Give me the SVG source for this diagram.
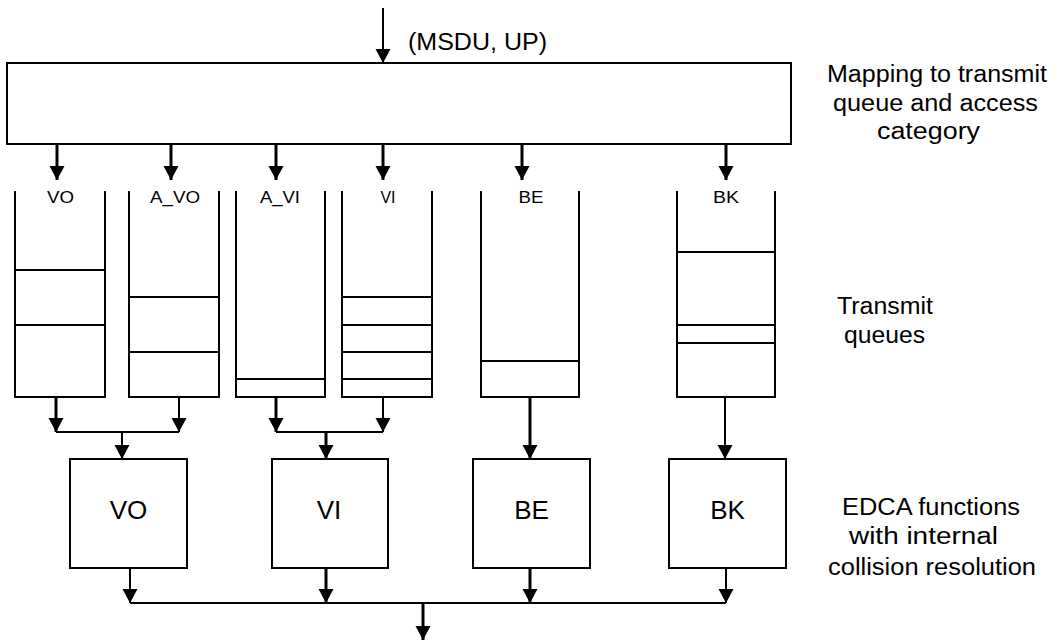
<svg xmlns="http://www.w3.org/2000/svg" width="1053" height="641" viewBox="0 0 1053 641">
<style>
.box{fill:#fff;stroke:#000;stroke-width:2}
.q{fill:none;stroke:#000;stroke-width:2}
.ln{fill:none;stroke:#000;stroke-width:2}
.ar{fill:none;stroke:#000;stroke-width:2;marker-end:url(#ah)}
.ak{fill:none;stroke:#000;stroke-width:3;marker-end:url(#ah)}
.t{font-family:"Liberation Sans",Arial,sans-serif;fill:#000}
.lab{font-size:23px;text-anchor:middle}
.ql{font-size:16px;text-anchor:middle}
.el{font-size:26px;text-anchor:middle}
</style>
<defs>
<marker id="ah" markerUnits="userSpaceOnUse" markerWidth="16" markerHeight="16" refX="14" refY="0" orient="auto" overflow="visible" viewBox="0 -8 16 16">
<path d="M0,-7.5 L14,0 L0,7.5 Z" fill="#000"/>
</marker>
</defs>
<g id="mapping">
<rect class="box" x="7" y="63" width="784" height="81"/>
</g>
<g id="queue-VO">
<path class="q" d="M15,191 V397 H105 V191 M15,270 H105 M15,325 H105"/>
<text class="t ql" x="60.5" y="203" textLength="27" lengthAdjust="spacingAndGlyphs">VO</text>
</g>
<g id="queue-A_VO">
<path class="q" d="M129,191 V397 H219 V191 M129,297 H219 M129,352 H219"/>
<text class="t ql" x="175" y="203" textLength="50" lengthAdjust="spacingAndGlyphs">A_VO</text>
</g>
<g id="queue-A_VI">
<path class="q" d="M236,191 V397 H325 V191 M236,379 H325"/>
<text class="t ql" x="280" y="203" textLength="40" lengthAdjust="spacingAndGlyphs">A_VI</text>
</g>
<g id="queue-VI">
<path class="q" d="M342,191 V397 H432 V191 M342,297 H432 M342,325 H432 M342,352 H432 M342,379 H432"/>
<text class="t ql" x="388" y="203" textLength="15" lengthAdjust="spacingAndGlyphs">VI</text>
</g>
<g id="queue-BE">
<path class="q" d="M481,191 V397 H579 V191 M481,361 H579"/>
<text class="t ql" x="531" y="203" textLength="25" lengthAdjust="spacingAndGlyphs">BE</text>
</g>
<g id="queue-BK">
<path class="q" d="M677,191 V397 H775 V191 M677,252 H775 M677,325 H775 M677,343 H775"/>
<text class="t ql" x="726" y="203" textLength="26" lengthAdjust="spacingAndGlyphs">BK</text>
</g>
<g id="edca-VO">
<rect class="box" x="70" y="459" width="117" height="109"/>
<text class="t el" x="128.5" y="519">VO</text>
</g>
<g id="edca-VI">
<rect class="box" x="272" y="459" width="116" height="109"/>
<text class="t el" x="329" y="519">VI</text>
</g>
<g id="edca-BE">
<rect class="box" x="473" y="459" width="117" height="109"/>
<text class="t el" x="531.5" y="519">BE</text>
</g>
<g id="edca-BK">
<rect class="box" x="669" y="459" width="117" height="109"/>
<text class="t el" x="727.5" y="519">BK</text>
</g>
<g id="connectors">
<path class="ar" d="M383,8 V63"/>
<path class="ak" d="M57,144 V180"/>
<path class="ak" d="M171,144 V180"/>
<path class="ak" d="M276,144 V180"/>
<path class="ak" d="M383,144 V180"/>
<path class="ak" d="M522,144 V180"/>
<path class="ak" d="M726,144 V180"/>
<path class="ak" d="M56,397 V432"/>
<path class="ar" d="M179,397 V432"/>
<path class="ln" d="M56,432 H179"/>
<path class="ar" d="M122,432 V459"/>
<path class="ak" d="M276,397 V432"/>
<path class="ar" d="M383,397 V432"/>
<path class="ln" d="M276,432 H383"/>
<path class="ak" d="M326,432 V459"/>
<path class="ak" d="M530,397 V459"/>
<path class="ar" d="M725,397 V459"/>
<path class="ar" d="M130,568 V603"/>
<path class="ak" d="M326,568 V603"/>
<path class="ak" d="M530,568 V603"/>
<path class="ar" d="M726,568 V603"/>
<path class="ln" d="M130,603 H726"/>
<path class="ak" d="M423,603 V640"/>
</g>
<g id="labels">
<text class="t" x="408" y="50" font-size="23" textLength="139" lengthAdjust="spacingAndGlyphs">(MSDU, UP)</text>
<text class="t lab" x="937" y="82" textLength="220" lengthAdjust="spacingAndGlyphs">Mapping to transmit</text>
<text class="t lab" x="935.5" y="110.5" textLength="205" lengthAdjust="spacingAndGlyphs">queue and access</text>
<text class="t lab" x="928.5" y="139" textLength="103" lengthAdjust="spacingAndGlyphs">category</text>
<text class="t lab" x="885" y="314" textLength="96" lengthAdjust="spacingAndGlyphs">Transmit</text>
<text class="t lab" x="884.5" y="343" textLength="81" lengthAdjust="spacingAndGlyphs">queues</text>
<text class="t lab" x="931" y="515" textLength="178" lengthAdjust="spacingAndGlyphs">EDCA functions</text>
<text class="t lab" x="923.5" y="544" textLength="149" lengthAdjust="spacingAndGlyphs">with internal</text>
<text class="t lab" x="932" y="575" textLength="208" lengthAdjust="spacingAndGlyphs">collision resolution</text>
</g>
</svg>
